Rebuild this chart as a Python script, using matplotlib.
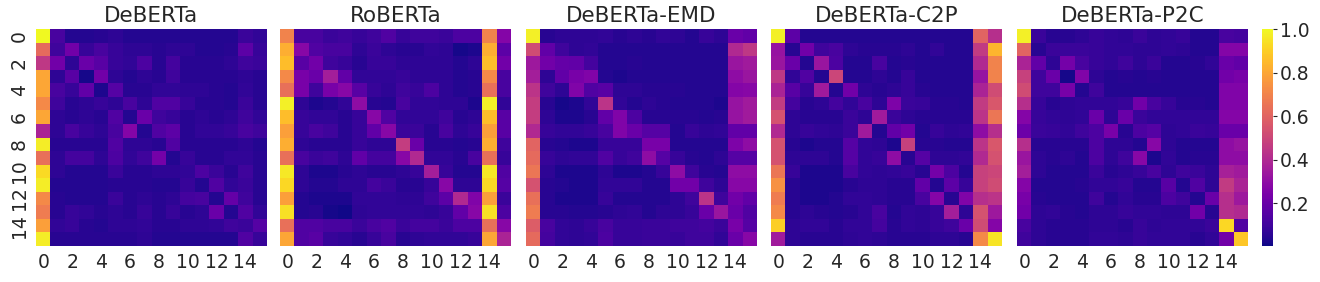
import numpy as np
import matplotlib
matplotlib.use("Agg")
import matplotlib.pyplot as plt

titles = ["DeBERTa", "RoBERTa", "DeBERTa-EMD", "DeBERTa-C2P", "DeBERTa-P2C"]
tick_labels = [str(i) for i in range(0, 16, 2)]

deberta = [
    [1.00, 0.12, 0.04, 0.04, 0.05, 0.06, 0.04, 0.04, 0.04, 0.04, 0.04, 0.04, 0.04, 0.04, 0.09, 0.07],
    [0.62, 0.10, 0.22, 0.08, 0.12, 0.08, 0.06, 0.06, 0.05, 0.06, 0.06, 0.04, 0.04, 0.05, 0.17, 0.08],
    [0.45, 0.22, 0.06, 0.20, 0.16, 0.08, 0.07, 0.13, 0.05, 0.11, 0.05, 0.05, 0.05, 0.06, 0.10, 0.09],
    [0.80, 0.06, 0.16, 0.02, 0.22, 0.06, 0.04, 0.06, 0.05, 0.10, 0.05, 0.05, 0.05, 0.05, 0.06, 0.05],
    [0.80, 0.12, 0.08, 0.18, 0.03, 0.15, 0.05, 0.05, 0.07, 0.07, 0.06, 0.06, 0.05, 0.04, 0.07, 0.05],
    [0.72, 0.10, 0.05, 0.06, 0.08, 0.06, 0.12, 0.06, 0.14, 0.14, 0.08, 0.05, 0.05, 0.04, 0.09, 0.05],
    [0.80, 0.06, 0.05, 0.06, 0.05, 0.14, 0.04, 0.20, 0.10, 0.08, 0.05, 0.06, 0.05, 0.06, 0.10, 0.07],
    [0.38, 0.06, 0.12, 0.08, 0.06, 0.12, 0.27, 0.04, 0.14, 0.17, 0.05, 0.07, 0.07, 0.08, 0.12, 0.10],
    [0.97, 0.05, 0.05, 0.05, 0.05, 0.14, 0.06, 0.06, 0.05, 0.14, 0.05, 0.05, 0.05, 0.05, 0.06, 0.04],
    [0.64, 0.06, 0.11, 0.11, 0.06, 0.13, 0.07, 0.10, 0.23, 0.04, 0.08, 0.05, 0.05, 0.07, 0.07, 0.05],
    [0.93, 0.06, 0.04, 0.04, 0.04, 0.09, 0.05, 0.05, 0.06, 0.06, 0.07, 0.13, 0.09, 0.05, 0.10, 0.05],
    [0.97, 0.04, 0.04, 0.04, 0.04, 0.05, 0.05, 0.05, 0.04, 0.04, 0.08, 0.04, 0.14, 0.07, 0.09, 0.05],
    [0.72, 0.05, 0.04, 0.04, 0.04, 0.09, 0.05, 0.06, 0.05, 0.06, 0.11, 0.12, 0.04, 0.19, 0.10, 0.05],
    [0.68, 0.05, 0.08, 0.07, 0.05, 0.06, 0.05, 0.08, 0.05, 0.08, 0.05, 0.06, 0.20, 0.04, 0.14, 0.07],
    [0.78, 0.07, 0.08, 0.05, 0.04, 0.06, 0.06, 0.07, 0.05, 0.05, 0.06, 0.06, 0.07, 0.10, 0.09, 0.15],
    [0.97, 0.05, 0.05, 0.05, 0.05, 0.05, 0.05, 0.06, 0.04, 0.04, 0.04, 0.04, 0.04, 0.04, 0.14, 0.08],
]

roberta = [
    [0.70, 0.12, 0.12, 0.09, 0.10, 0.08, 0.10, 0.14, 0.08, 0.10, 0.10, 0.09, 0.13, 0.13, 0.70, 0.27],
    [0.82, 0.28, 0.14, 0.12, 0.12, 0.06, 0.09, 0.06, 0.05, 0.05, 0.07, 0.06, 0.02, 0.03, 0.82, 0.17],
    [0.86, 0.16, 0.22, 0.10, 0.08, 0.05, 0.08, 0.08, 0.06, 0.06, 0.06, 0.06, 0.04, 0.06, 0.86, 0.22],
    [0.72, 0.24, 0.20, 0.36, 0.18, 0.07, 0.07, 0.07, 0.08, 0.06, 0.06, 0.06, 0.04, 0.05, 0.72, 0.12],
    [0.64, 0.24, 0.10, 0.24, 0.28, 0.16, 0.08, 0.06, 0.10, 0.08, 0.13, 0.06, 0.04, 0.05, 0.64, 0.12],
    [0.98, 0.06, 0.03, 0.04, 0.07, 0.30, 0.05, 0.04, 0.12, 0.07, 0.07, 0.06, 0.06, 0.03, 0.98, 0.07],
    [0.86, 0.08, 0.07, 0.07, 0.05, 0.08, 0.28, 0.14, 0.07, 0.07, 0.07, 0.10, 0.05, 0.06, 0.86, 0.16],
    [0.78, 0.08, 0.12, 0.10, 0.05, 0.08, 0.18, 0.28, 0.09, 0.09, 0.05, 0.12, 0.06, 0.08, 0.78, 0.16],
    [0.82, 0.06, 0.05, 0.05, 0.05, 0.08, 0.06, 0.06, 0.47, 0.20, 0.05, 0.05, 0.04, 0.05, 0.82, 0.10],
    [0.64, 0.12, 0.09, 0.10, 0.06, 0.18, 0.11, 0.11, 0.28, 0.40, 0.07, 0.07, 0.05, 0.12, 0.64, 0.08],
    [0.96, 0.06, 0.03, 0.03, 0.05, 0.06, 0.05, 0.05, 0.06, 0.08, 0.36, 0.08, 0.04, 0.04, 0.96, 0.14],
    [0.92, 0.06, 0.04, 0.04, 0.06, 0.06, 0.11, 0.09, 0.05, 0.05, 0.08, 0.28, 0.06, 0.06, 0.92, 0.15],
    [0.78, 0.04, 0.03, 0.03, 0.03, 0.07, 0.07, 0.07, 0.06, 0.06, 0.10, 0.17, 0.40, 0.26, 0.78, 0.09],
    [0.94, 0.04, 0.05, 0.02, 0.01, 0.06, 0.07, 0.07, 0.07, 0.07, 0.06, 0.08, 0.18, 0.28, 0.94, 0.13],
    [0.64, 0.14, 0.14, 0.12, 0.12, 0.09, 0.12, 0.14, 0.09, 0.11, 0.11, 0.09, 0.13, 0.13, 0.64, 0.28],
    [0.80, 0.14, 0.16, 0.08, 0.07, 0.05, 0.08, 0.12, 0.05, 0.06, 0.07, 0.07, 0.07, 0.08, 0.80, 0.38],
]

deberta_emd = [
    [0.98, 0.05, 0.06, 0.06, 0.06, 0.07, 0.05, 0.06, 0.05, 0.07, 0.06, 0.04, 0.08, 0.06, 0.20, 0.18],
    [0.52, 0.18, 0.10, 0.06, 0.07, 0.04, 0.04, 0.04, 0.04, 0.04, 0.04, 0.04, 0.04, 0.04, 0.40, 0.45],
    [0.34, 0.22, 0.19, 0.18, 0.11, 0.04, 0.04, 0.05, 0.04, 0.04, 0.04, 0.04, 0.04, 0.04, 0.33, 0.35],
    [0.36, 0.06, 0.18, 0.24, 0.26, 0.04, 0.03, 0.04, 0.04, 0.04, 0.04, 0.04, 0.04, 0.04, 0.30, 0.33],
    [0.44, 0.10, 0.06, 0.26, 0.14, 0.16, 0.06, 0.06, 0.05, 0.05, 0.05, 0.04, 0.04, 0.04, 0.27, 0.28],
    [0.47, 0.05, 0.02, 0.03, 0.07, 0.44, 0.07, 0.04, 0.06, 0.05, 0.04, 0.04, 0.04, 0.03, 0.32, 0.35],
    [0.47, 0.06, 0.03, 0.03, 0.05, 0.18, 0.26, 0.13, 0.05, 0.05, 0.05, 0.05, 0.04, 0.05, 0.32, 0.35],
    [0.40, 0.08, 0.07, 0.07, 0.08, 0.12, 0.26, 0.20, 0.15, 0.15, 0.04, 0.08, 0.06, 0.07, 0.18, 0.18],
    [0.60, 0.05, 0.04, 0.03, 0.03, 0.08, 0.08, 0.08, 0.24, 0.24, 0.04, 0.04, 0.04, 0.04, 0.25, 0.30],
    [0.62, 0.08, 0.06, 0.07, 0.07, 0.14, 0.08, 0.10, 0.30, 0.15, 0.08, 0.05, 0.04, 0.06, 0.15, 0.15],
    [0.66, 0.06, 0.03, 0.03, 0.03, 0.06, 0.03, 0.03, 0.04, 0.08, 0.30, 0.10, 0.05, 0.04, 0.30, 0.30],
    [0.54, 0.05, 0.04, 0.03, 0.03, 0.07, 0.07, 0.07, 0.04, 0.04, 0.22, 0.22, 0.10, 0.06, 0.28, 0.28],
    [0.64, 0.05, 0.03, 0.03, 0.03, 0.08, 0.04, 0.04, 0.04, 0.04, 0.06, 0.10, 0.44, 0.10, 0.22, 0.18],
    [0.68, 0.05, 0.05, 0.04, 0.04, 0.05, 0.06, 0.07, 0.04, 0.06, 0.06, 0.08, 0.20, 0.33, 0.20, 0.14],
    [0.58, 0.12, 0.07, 0.06, 0.08, 0.12, 0.08, 0.08, 0.09, 0.09, 0.10, 0.10, 0.11, 0.09, 0.24, 0.15],
    [0.62, 0.11, 0.07, 0.06, 0.07, 0.13, 0.08, 0.08, 0.09, 0.09, 0.08, 0.10, 0.10, 0.07, 0.20, 0.28],
]

deberta_c2p = [
    [0.98, 0.17, 0.04, 0.04, 0.04, 0.04, 0.04, 0.04, 0.04, 0.04, 0.04, 0.04, 0.04, 0.04, 0.60, 0.42],
    [0.32, 0.05, 0.22, 0.10, 0.12, 0.06, 0.05, 0.05, 0.05, 0.06, 0.04, 0.07, 0.04, 0.04, 0.46, 0.84],
    [0.33, 0.20, 0.04, 0.33, 0.13, 0.04, 0.04, 0.12, 0.04, 0.05, 0.04, 0.04, 0.04, 0.04, 0.40, 0.70],
    [0.45, 0.07, 0.14, 0.04, 0.50, 0.04, 0.04, 0.06, 0.04, 0.08, 0.04, 0.04, 0.04, 0.04, 0.32, 0.70],
    [0.38, 0.16, 0.08, 0.35, 0.04, 0.22, 0.06, 0.05, 0.06, 0.08, 0.05, 0.04, 0.04, 0.04, 0.38, 0.52],
    [0.46, 0.11, 0.05, 0.06, 0.11, 0.07, 0.12, 0.06, 0.25, 0.09, 0.08, 0.05, 0.05, 0.04, 0.46, 0.56],
    [0.54, 0.06, 0.05, 0.05, 0.05, 0.09, 0.06, 0.35, 0.09, 0.06, 0.05, 0.05, 0.05, 0.05, 0.44, 0.66],
    [0.40, 0.06, 0.08, 0.07, 0.06, 0.09, 0.35, 0.04, 0.18, 0.22, 0.04, 0.08, 0.06, 0.07, 0.30, 0.42],
    [0.54, 0.05, 0.03, 0.04, 0.04, 0.15, 0.07, 0.06, 0.03, 0.48, 0.05, 0.05, 0.04, 0.04, 0.44, 0.56],
    [0.54, 0.06, 0.06, 0.06, 0.04, 0.15, 0.07, 0.08, 0.30, 0.05, 0.15, 0.06, 0.06, 0.07, 0.40, 0.54],
    [0.66, 0.08, 0.03, 0.03, 0.03, 0.12, 0.07, 0.06, 0.07, 0.08, 0.05, 0.23, 0.13, 0.04, 0.48, 0.50],
    [0.74, 0.05, 0.03, 0.03, 0.03, 0.05, 0.06, 0.06, 0.05, 0.05, 0.18, 0.04, 0.17, 0.08, 0.48, 0.52],
    [0.68, 0.05, 0.03, 0.03, 0.04, 0.07, 0.07, 0.06, 0.05, 0.05, 0.12, 0.27, 0.05, 0.26, 0.42, 0.44],
    [0.72, 0.05, 0.06, 0.05, 0.04, 0.05, 0.07, 0.12, 0.04, 0.07, 0.06, 0.08, 0.36, 0.06, 0.54, 0.34],
    [0.90, 0.06, 0.07, 0.07, 0.05, 0.07, 0.07, 0.11, 0.05, 0.07, 0.06, 0.08, 0.10, 0.20, 0.52, 0.27],
    [0.35, 0.06, 0.05, 0.05, 0.05, 0.06, 0.07, 0.06, 0.05, 0.05, 0.05, 0.06, 0.06, 0.05, 0.72, 0.95],
]

deberta_p2c = [
    [0.98, 0.09, 0.05, 0.05, 0.06, 0.08, 0.07, 0.06, 0.09, 0.06, 0.07, 0.08, 0.04, 0.04, 0.12, 0.11],
    [0.60, 0.05, 0.09, 0.09, 0.09, 0.08, 0.07, 0.07, 0.06, 0.06, 0.07, 0.06, 0.04, 0.04, 0.27, 0.27],
    [0.38, 0.18, 0.06, 0.23, 0.12, 0.08, 0.07, 0.10, 0.06, 0.09, 0.04, 0.04, 0.05, 0.07, 0.20, 0.18],
    [0.48, 0.10, 0.20, 0.02, 0.26, 0.06, 0.04, 0.05, 0.04, 0.05, 0.04, 0.04, 0.04, 0.04, 0.22, 0.24],
    [0.52, 0.10, 0.10, 0.24, 0.04, 0.10, 0.04, 0.04, 0.04, 0.04, 0.04, 0.04, 0.04, 0.04, 0.26, 0.26],
    [0.42, 0.08, 0.05, 0.06, 0.07, 0.07, 0.07, 0.08, 0.22, 0.12, 0.08, 0.05, 0.05, 0.04, 0.26, 0.26],
    [0.27, 0.08, 0.07, 0.06, 0.07, 0.20, 0.06, 0.20, 0.09, 0.07, 0.07, 0.07, 0.07, 0.07, 0.27, 0.27],
    [0.21, 0.09, 0.08, 0.07, 0.10, 0.13, 0.24, 0.05, 0.13, 0.15, 0.06, 0.07, 0.09, 0.08, 0.20, 0.20],
    [0.42, 0.05, 0.05, 0.05, 0.05, 0.13, 0.06, 0.06, 0.04, 0.28, 0.06, 0.04, 0.04, 0.04, 0.30, 0.32],
    [0.33, 0.06, 0.05, 0.06, 0.04, 0.13, 0.06, 0.10, 0.28, 0.03, 0.07, 0.04, 0.05, 0.05, 0.30, 0.30],
    [0.36, 0.06, 0.04, 0.04, 0.04, 0.09, 0.05, 0.06, 0.08, 0.12, 0.06, 0.10, 0.09, 0.06, 0.37, 0.35],
    [0.27, 0.04, 0.04, 0.04, 0.05, 0.07, 0.07, 0.08, 0.04, 0.04, 0.16, 0.04, 0.14, 0.06, 0.46, 0.38],
    [0.24, 0.05, 0.04, 0.04, 0.04, 0.10, 0.04, 0.07, 0.05, 0.05, 0.13, 0.10, 0.04, 0.20, 0.42, 0.34],
    [0.22, 0.06, 0.07, 0.05, 0.04, 0.06, 0.06, 0.08, 0.07, 0.07, 0.06, 0.06, 0.22, 0.05, 0.42, 0.40],
    [0.12, 0.06, 0.05, 0.05, 0.05, 0.06, 0.06, 0.05, 0.08, 0.06, 0.07, 0.07, 0.07, 0.09, 0.92, 0.14],
    [0.10, 0.06, 0.05, 0.05, 0.05, 0.07, 0.07, 0.06, 0.08, 0.07, 0.07, 0.07, 0.05, 0.07, 0.22, 0.88],
]

matrices = [deberta, roberta, deberta_emd, deberta_c2p, deberta_p2c]

W, H = 1320, 282
fig = plt.figure(figsize=(W / 100, H / 100), dpi=100)
text_color = "#262626"

lefts = [36, 280, 526, 771, 1017]
for i, (name, mat) in enumerate(zip(titles, matrices)):
    ax = fig.add_axes([lefts[i] / W, 36 / H, 231 / W, 217 / H])
    data = np.array(mat)
    mesh = ax.pcolormesh(data, cmap="plasma", vmin=0.005, vmax=1.0)
    ax.set_xlim(0, 16)
    ax.set_ylim(16, 0)
    for s in ax.spines.values():
        s.set_visible(False)
    ax.set_xticks(np.arange(0, 16, 2) + 0.5)
    ax.set_xticklabels(tick_labels, fontsize=13.5, color=text_color)
    ax.tick_params(length=0, pad=5)
    if i == 0:
        ax.set_yticks(np.arange(0, 16, 2) + 0.5)
        ax.set_yticklabels(tick_labels, fontsize=13.5, color=text_color,
                           rotation=90, va="center")
    else:
        ax.set_yticks([])
    ax.set_title(name, fontsize=15.5, color=text_color, pad=5)

cax = fig.add_axes([1262 / W, 36 / H, 11 / W, 217 / H])
cb = fig.colorbar(mesh, cax=cax)
cb.outline.set_visible(False)
cb.set_ticks([0.2, 0.4, 0.6, 0.8, 1.0])
cax.tick_params(labelsize=13.5, labelcolor=text_color, length=3, width=0.8,
                color=text_color, pad=2)

fig.savefig("out.png", dpi=100)
